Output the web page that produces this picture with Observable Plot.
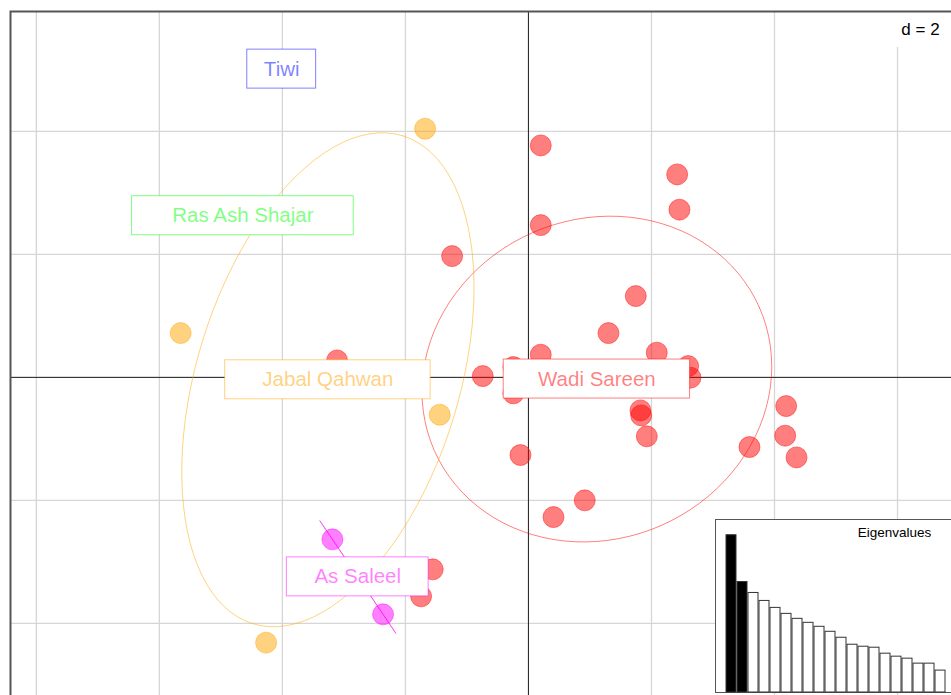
<!DOCTYPE html>
<html><head><meta charset="utf-8">
<script src="https://cdn.jsdelivr.net/npm/d3@7"></script>
<script src="https://cdn.jsdelivr.net/npm/@observablehq/plot@0.6"></script>
<style>
html,body{margin:0;padding:0;overflow:hidden;background:#fff;width:951px;height:695px}
#wrap{position:relative;width:951px;height:695px;overflow:hidden}
#wrap svg{max-width:none !important}
#main{position:absolute;left:0;top:0}
#inset{position:absolute;left:714px;top:518px}
</style></head><body><div id="wrap"><div id="main"></div><div id="inset"></div></div>
<script>
// ---- data ----
const groups = ["Wadi Sareen", "Jabal Qahwan", "As Saleel", "Tiwi", "Ras Ash Shajar"];
const groupColors = ["#ff0000", "#ffa500", "#ff00ff", "#0000ff", "#00ff00"];
const wadiSareenX = [0.200, 2.418, 2.455, 0.200, -1.241, 1.745, 1.301, 2.086, 0.200, 2.597, 2.634, -0.743, -0.244, -0.244, -3.111, 1.821, 1.833, 1.924, -0.130, 3.593, 4.190, 4.174, 4.358, 0.915, 0.407, -1.556, -1.745];
const wadiSareenY = [3.772, 3.301, 2.727, 2.476, 1.972, 1.322, 0.720, 0.402, 0.369, 0.184, -0.005, 0.021, 0.167, -0.260, 0.276, -0.537, -0.618, -0.959, -1.263, -1.133, -0.467, -0.948, -1.301, -2.000, -2.272, -3.122, -3.561];
const jabalQahwanX = [-1.680, -5.654, -1.442, -4.265, -3.260];
const jabalQahwanY = [4.044, 0.720, -0.607, -4.314, -0.039];
const asSaleelX = [-3.187, -2.363];
const asSaleelY = [-2.634, -3.854];
const tiwiX = [-4.011];
const tiwiY = [5.013];
const rasAshShajarX = [-4.642];
const rasAshShajarY = [2.629];
const eigenvalues = [158, 111, 100, 92, 85, 79, 74, 70, 66, 61, 55, 48, 46, 45, 39, 36, 34, 29, 29, 22];
const nRetained = 2;
const gridStep = 2;
const subtitle = "d = 2";
const insetTitle = "Eigenvalues";

// ---- layout ----
const W = 960, H = 720, mL = 10, mT = 11, mR = 7, mB = 0;
const xLim = [-8.42, 6.91], yLim = [-5.58, 5.95];
const pxX = (W - mL - mR) / (xLim[1] - xLim[0]);
const pxY = (H - mT - mB) / (yLim[1] - yLim[0]);
const FONT = "'Liberation Sans', Arial, Helvetica, sans-serif";
const labelSize = 20.5;
const cellipse = 1.5;

const xsAll = [wadiSareenX, jabalQahwanX, asSaleelX, tiwiX, rasAshShajarX];
const ysAll = [wadiSareenY, jabalQahwanY, asSaleelY, tiwiY, rasAshShajarY];
const color = Object.fromEntries(groups.map((g, k) => [g, groupColors[k]]));

const points = [];
groups.forEach((g, k) => xsAll[k].forEach((x, i) => points.push({group: g, x, y: ysAll[k][i]})));

// group stats + ellipses (ade4 style)
const ctx = document.createElement("canvas").getContext("2d");
ctx.font = `${labelSize}px ${FONT}`;
const labels = [], ellipses = [];
groups.forEach((g, k) => {
  const X = xsAll[k], Y = ysAll[k], n = X.length;
  const mx = d3.mean(X), my = d3.mean(Y);
  const vx = d3.mean(X, x => (x - mx) ** 2), vy = d3.mean(Y, y => (y - my) ** 2);
  const cxy = d3.mean(X.map((x, i) => (x - mx) * (Y[i] - my)));
  const tw = ctx.measureText(g).width;
  const hw = (1.4315 * tw + 17.8) / 2 / pxX, hh = 19.5 / pxY;
  labels.push({group: g, x: mx, y: my, x1: mx - hw, x2: mx + hw, y1: my - hh, y2: my + hh});
  if (n < 2 || (vx === 0 && vy === 0)) return;
  const delta = Math.sqrt((vx - vy) ** 2 + 4 * cxy * cxy);
  let l1 = (vx + vy + delta) / 2, l2 = vx + vy - l1;
  l1 = Math.sqrt(Math.max(l1, 0)); l2 = Math.sqrt(Math.max(l2, 0));
  let a0, b0;
  if (Math.abs(cxy) < 1e-10) { if (vx > vy) { a0 = 1; b0 = 0; } else { a0 = 0; b0 = 1; } }
  else { a0 = 1; b0 = (l1 * l1 - vx) / cxy; const nn = Math.hypot(a0, b0); a0 /= nn; b0 /= nn; }
  for (let i = 0; i <= 100; i++) {
    const t = 2 * Math.PI * i / 100;
    ellipses.push({group: g,
      x: mx + cellipse * (a0 * l1 * Math.cos(t) - b0 * l2 * Math.sin(t)),
      y: my + cellipse * (b0 * l1 * Math.cos(t) + a0 * l2 * Math.sin(t))});
  }
});

const subBox = [{x1: xLim[1] - 66 / pxX, x2: xLim[1], y1: yLim[1] - 36 / pxY, y2: yLim[1],
                 tx: xLim[1] - 33 / pxX, ty: yLim[1] - 18 / pxY, text: subtitle}];

const main = Plot.plot({
  width: W, height: H, marginLeft: mL, marginTop: mT, marginRight: mR, marginBottom: mB,
  style: {fontFamily: FONT, background: "white"},
  x: {domain: xLim, axis: null},
  y: {domain: yLim, axis: null},
  marks: [
    Plot.ruleX(d3.range(Math.ceil(xLim[0] / gridStep) * gridStep, xLim[1], gridStep), {stroke: "#d6d6d6", strokeWidth: 1.3}),
    Plot.ruleY(d3.range(Math.ceil(yLim[0] / gridStep) * gridStep, yLim[1], gridStep), {stroke: "#d6d6d6", strokeWidth: 1.3}),
    Plot.ruleX([0], {stroke: "#222", strokeWidth: 1}),
    Plot.ruleY([0], {stroke: "#222", strokeWidth: 1}),
    Plot.dot(points, {x: "x", y: "y", r: 10.5, fill: d => color[d.group], fillOpacity: 0.5,
      stroke: d => color[d.group], strokeOpacity: 0.45, strokeWidth: 1}),
    Plot.line(ellipses, {x: "x", y: "y", z: "group", stroke: d => color[d.group], strokeOpacity: 0.5, strokeWidth: 1, curve: "linear"}),
    Plot.rect(labels, {x1: "x1", x2: "x2", y1: "y1", y2: "y2", fill: "white", stroke: d => color[d.group], strokeOpacity: 0.5, strokeWidth: 1}),
    Plot.text(labels, {x: "x", y: "y", text: "group", fill: d => color[d.group], fillOpacity: 0.5, fontSize: labelSize, textAnchor: "middle", lineAnchor: "middle"}),
    Plot.rect(subBox, {x1: "x1", x2: "x2", y1: "y1", y2: "y2", fill: "white"}),
    Plot.text(subBox, {x: "tx", y: "ty", text: "text", fill: "black", fontSize: 17, textAnchor: "middle", lineAnchor: "middle"}),
    Plot.frame({stroke: "#555", strokeWidth: 2})
  ]
});
document.getElementById("main").appendChild(main);

const eig = eigenvalues.map((v, i) => ({rank: i + 1, value: v}));
const inset = Plot.plot({
  width: 262, height: 177, marginLeft: 1, marginRight: 0, marginTop: 1, marginBottom: 3,
  style: {fontFamily: FONT, background: "transparent"},
  x: {type: "band", domain: eig.map(d => d.rank), range: [9.4, 233.4], padding: 0.08, axis: null},
  y: {domain: [0, d3.max(eigenvalues) * 1.1], axis: null},
  marks: [
    Plot.frame({fill: "white", stroke: "#555", strokeWidth: 1}),
    Plot.barY(eig, {x: "rank", y: "value", fill: d => d.rank <= nRetained ? "black" : "white", stroke: "#333", strokeWidth: 1}),
    Plot.text([insetTitle], {frameAnchor: "top-left", dx: 179, dy: 13, text: d => d, fontSize: 13.5, fill: "black", textAnchor: "middle", lineAnchor: "middle"})
  ]
});
document.getElementById("inset").appendChild(inset);
</script></body></html>
